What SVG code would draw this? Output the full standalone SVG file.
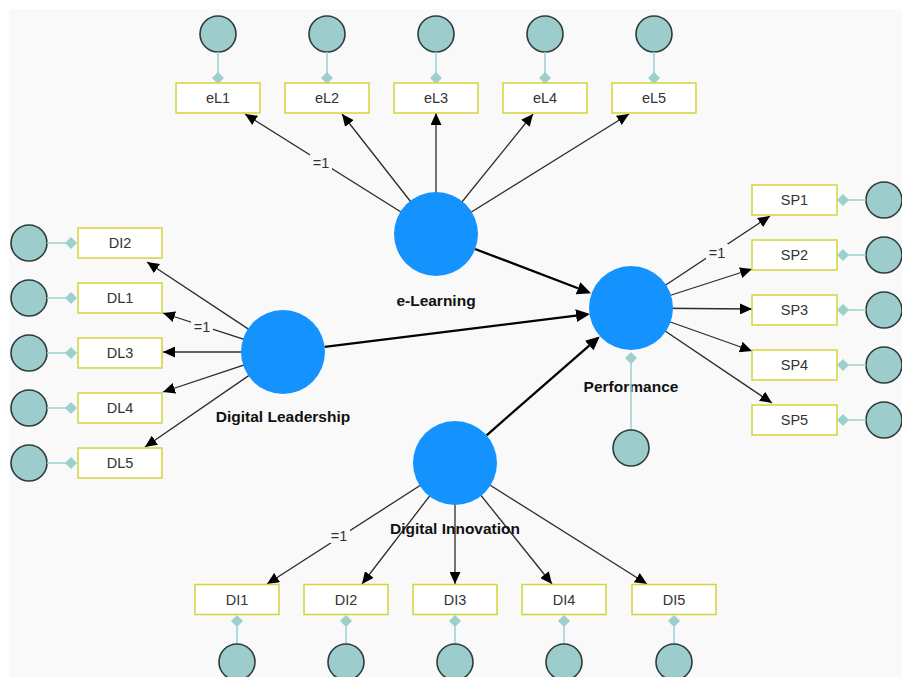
<svg xmlns="http://www.w3.org/2000/svg" width="902" height="677" viewBox="0 0 902 677">
<defs>
<style>
.bg{fill:#f9f9f9}
.lv{fill:#1493fe}
.lvl{font-family:"Liberation Sans",Arial,sans-serif;font-size:15.5px;font-weight:bold;fill:#111;text-anchor:middle}
.box{fill:#fff;stroke:#d3d33a;stroke-width:1.5}
.bt{font-family:"Liberation Sans",Arial,sans-serif;font-size:14.5px;fill:#333;text-anchor:middle}
.err{fill:#9ccccb;stroke:#2e3b3b;stroke-width:1.6}
.el{stroke:#a2d3d3;stroke-width:1.6}
.dm{fill:#9ccfce}
.thin{stroke:#2b2b2b;stroke-width:1.3;fill:none;marker-end:url(#ah)}
.thick{stroke:#000;stroke-width:2.3;fill:none;marker-end:url(#ahb)}
.lab{font-family:"Liberation Sans",Arial,sans-serif;font-size:14.5px;fill:#333;text-anchor:middle}
.lbg{fill:#f9f9f9}
</style>
<marker id="ah" markerUnits="userSpaceOnUse" markerWidth="12" markerHeight="11" refX="12" refY="5.5" orient="auto">
<path d="M0,0 L12,5.5 L0,11 z" fill="#000"/>
</marker>
<marker id="ahb" markerUnits="userSpaceOnUse" markerWidth="14" markerHeight="13" refX="0" refY="6.5" orient="auto">
<path d="M0,0 L14,6.5 L0,13 z" fill="#000"/>
</marker>
</defs>
<rect class="bg" x="9" y="9" width="893" height="668"/>

<g id="connectors">
<line class="thin" x1="436" y1="234" x2="245" y2="114"/>
<line class="thin" x1="436" y1="234" x2="342" y2="114"/>
<line class="thin" x1="436" y1="234" x2="436" y2="113"/>
<line class="thin" x1="436" y1="234" x2="533" y2="114"/>
<line class="thin" x1="436" y1="234" x2="629" y2="114"/>
<line class="thin" x1="283" y1="352" x2="147" y2="262"/>
<line class="thin" x1="283" y1="352" x2="163" y2="313"/>
<line class="thin" x1="283" y1="352" x2="163" y2="352"/>
<line class="thin" x1="283" y1="352" x2="163" y2="392"/>
<line class="thin" x1="283" y1="352" x2="145" y2="447"/>
<line class="thin" x1="631" y1="308" x2="770" y2="216"/>
<line class="thin" x1="631" y1="308" x2="752" y2="269"/>
<line class="thin" x1="631" y1="308" x2="752" y2="309"/>
<line class="thin" x1="631" y1="308" x2="752" y2="351"/>
<line class="thin" x1="631" y1="308" x2="772" y2="403"/>
<line class="thin" x1="455" y1="463" x2="267" y2="584"/>
<line class="thin" x1="455" y1="463" x2="362" y2="584"/>
<line class="thin" x1="455" y1="463" x2="455" y2="584"/>
<line class="thin" x1="455" y1="463" x2="552" y2="584"/>
<line class="thin" x1="455" y1="463" x2="647" y2="584"/>
<line class="thick" x1="475" y1="249" x2="578" y2="288.3"/>
<line class="thick" x1="324.7" y1="346.8" x2="576.1" y2="315.6"/>
<line class="thick" x1="486.6" y1="435.3" x2="589.2" y2="345.6"/>
<rect class="lbg" x="310" y="154" width="22" height="15"/>
<text class="lab" x="321" y="168">=1</text>
<rect class="lbg" x="191" y="318" width="22" height="15"/>
<text class="lab" x="202" y="332">=1</text>
<rect class="lbg" x="706" y="244" width="22" height="15"/>
<text class="lab" x="717" y="258">=1</text>
<rect class="lbg" x="328" y="528" width="22" height="15"/>
<text class="lab" x="339" y="541">=1</text>
</g>

<g id="eLearning">
<circle class="lv" cx="436" cy="234" r="42"/>
<text class="lvl" x="436" y="306">e-Learning</text>
</g>
<g id="DigitalLeadership">
<circle class="lv" cx="283" cy="352" r="42"/>
<text class="lvl" x="283" y="422">Digital Leadership</text>
</g>
<g id="Performance">
<circle class="lv" cx="631" cy="308" r="42"/>
<text class="lvl" x="631" y="392">Performance</text>
<line class="el" x1="631" y1="363" x2="631" y2="430"/>
<polygon class="dm" points="631,352 637,358 631,364 625,358"/>
<circle class="err" cx="631" cy="448" r="18"/>
</g>
<g id="DigitalInnovation">
<circle class="lv" cx="455" cy="463" r="42"/>
<text class="lvl" x="455" y="534">Digital Innovation</text>
</g>

<g id="eL1"><circle class="err" cx="218" cy="34" r="18"/><line class="el" x1="218" y1="52" x2="218" y2="73"/><polygon class="dm" points="218,72 224,78 218,84 212,78"/><rect class="box" x="176" y="83" width="84" height="30"/><text class="bt" x="218" y="103">eL1</text></g>
<g id="eL2"><circle class="err" cx="327" cy="34" r="18"/><line class="el" x1="327" y1="52" x2="327" y2="73"/><polygon class="dm" points="327,72 333,78 327,84 321,78"/><rect class="box" x="285" y="83" width="84" height="30"/><text class="bt" x="327" y="103">eL2</text></g>
<g id="eL3"><circle class="err" cx="436" cy="34" r="18"/><line class="el" x1="436" y1="52" x2="436" y2="73"/><polygon class="dm" points="436,72 442,78 436,84 430,78"/><rect class="box" x="394" y="83" width="84" height="30"/><text class="bt" x="436" y="103">eL3</text></g>
<g id="eL4"><circle class="err" cx="545" cy="34" r="18"/><line class="el" x1="545" y1="52" x2="545" y2="73"/><polygon class="dm" points="545,72 551,78 545,84 539,78"/><rect class="box" x="503" y="83" width="84" height="30"/><text class="bt" x="545" y="103">eL4</text></g>
<g id="eL5"><circle class="err" cx="654" cy="34" r="18"/><line class="el" x1="654" y1="52" x2="654" y2="73"/><polygon class="dm" points="654,72 660,78 654,84 648,78"/><rect class="box" x="612" y="83" width="84" height="30"/><text class="bt" x="654" y="103">eL5</text></g>

<g id="DI2L"><circle class="err" cx="29" cy="243" r="18"/><line class="el" x1="47" y1="243" x2="66" y2="243"/><polygon class="dm" points="65,243 71,237 77,243 71,249"/><rect class="box" x="78" y="228" width="84" height="30"/><text class="bt" x="120" y="248">DI2</text></g>
<g id="DL1"><circle class="err" cx="29" cy="298" r="18"/><line class="el" x1="47" y1="298" x2="66" y2="298"/><polygon class="dm" points="65,298 71,292 77,298 71,304"/><rect class="box" x="78" y="283" width="84" height="30"/><text class="bt" x="120" y="303">DL1</text></g>
<g id="DL3"><circle class="err" cx="29" cy="353" r="18"/><line class="el" x1="47" y1="353" x2="66" y2="353"/><polygon class="dm" points="65,353 71,347 77,353 71,359"/><rect class="box" x="78" y="338" width="84" height="30"/><text class="bt" x="120" y="358">DL3</text></g>
<g id="DL4"><circle class="err" cx="29" cy="408" r="18"/><line class="el" x1="47" y1="408" x2="66" y2="408"/><polygon class="dm" points="65,408 71,402 77,408 71,414"/><rect class="box" x="78" y="393" width="84" height="30"/><text class="bt" x="120" y="413">DL4</text></g>
<g id="DL5"><circle class="err" cx="29" cy="463" r="18"/><line class="el" x1="47" y1="463" x2="66" y2="463"/><polygon class="dm" points="65,463 71,457 77,463 71,469"/><rect class="box" x="78" y="448" width="84" height="30"/><text class="bt" x="120" y="468">DL5</text></g>

<g id="SP1"><circle class="err" cx="884" cy="200" r="18"/><line class="el" x1="848" y1="200" x2="866" y2="200"/><polygon class="dm" points="837,200 843,194 849,200 843,206"/><rect class="box" x="752" y="185" width="85" height="30"/><text class="bt" x="794.5" y="205">SP1</text></g>
<g id="SP2"><circle class="err" cx="884" cy="255" r="18"/><line class="el" x1="848" y1="255" x2="866" y2="255"/><polygon class="dm" points="837,255 843,249 849,255 843,261"/><rect class="box" x="752" y="240" width="85" height="30"/><text class="bt" x="794.5" y="260">SP2</text></g>
<g id="SP3"><circle class="err" cx="884" cy="310" r="18"/><line class="el" x1="848" y1="310" x2="866" y2="310"/><polygon class="dm" points="837,310 843,304 849,310 843,316"/><rect class="box" x="752" y="295" width="85" height="30"/><text class="bt" x="794.5" y="315">SP3</text></g>
<g id="SP4"><circle class="err" cx="884" cy="365" r="18"/><line class="el" x1="848" y1="365" x2="866" y2="365"/><polygon class="dm" points="837,365 843,359 849,365 843,371"/><rect class="box" x="752" y="350" width="85" height="30"/><text class="bt" x="794.5" y="370">SP4</text></g>
<g id="SP5"><circle class="err" cx="884" cy="420" r="18"/><line class="el" x1="848" y1="420" x2="866" y2="420"/><polygon class="dm" points="837,420 843,414 849,420 843,426"/><rect class="box" x="752" y="405" width="85" height="30"/><text class="bt" x="794.5" y="425">SP5</text></g>

<g id="DI1"><rect class="box" x="195" y="584.5" width="84" height="30"/><text class="bt" x="237" y="604.5">DI1</text><polygon class="dm" points="237,615 243,621 237,627 231,621"/><line class="el" x1="237" y1="626" x2="237" y2="644"/><circle class="err" cx="237" cy="662" r="18"/></g>
<g id="DI2"><rect class="box" x="304" y="584.5" width="84" height="30"/><text class="bt" x="346" y="604.5">DI2</text><polygon class="dm" points="346,615 352,621 346,627 340,621"/><line class="el" x1="346" y1="626" x2="346" y2="644"/><circle class="err" cx="346" cy="662" r="18"/></g>
<g id="DI3"><rect class="box" x="413" y="584.5" width="84" height="30"/><text class="bt" x="455" y="604.5">DI3</text><polygon class="dm" points="455,615 461,621 455,627 449,621"/><line class="el" x1="455" y1="626" x2="455" y2="644"/><circle class="err" cx="455" cy="662" r="18"/></g>
<g id="DI4"><rect class="box" x="522" y="584.5" width="84" height="30"/><text class="bt" x="564" y="604.5">DI4</text><polygon class="dm" points="564,615 570,621 564,627 558,621"/><line class="el" x1="564" y1="626" x2="564" y2="644"/><circle class="err" cx="564" cy="662" r="18"/></g>
<g id="DI5"><rect class="box" x="632" y="584.5" width="84" height="30"/><text class="bt" x="674" y="604.5">DI5</text><polygon class="dm" points="674,615 680,621 674,627 668,621"/><line class="el" x1="674" y1="626" x2="674" y2="644"/><circle class="err" cx="674" cy="662" r="18"/></g>
</svg>
